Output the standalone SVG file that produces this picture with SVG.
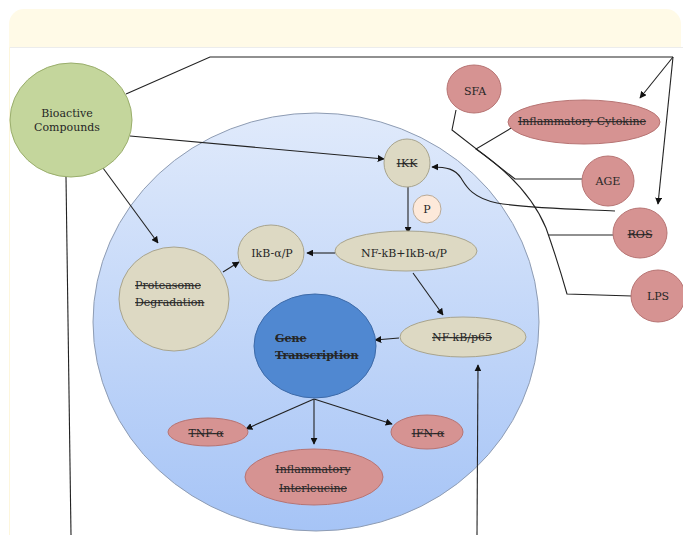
<svg xmlns="http://www.w3.org/2000/svg" width="683" height="535" viewBox="0 0 683 535">
<defs>
<linearGradient id="cellGrad" x1="0" y1="0" x2="0" y2="1">
<stop offset="0" stop-color="#e0eafb"/>
<stop offset="1" stop-color="#a6c4f6"/>
</linearGradient>
<marker id="arr" viewBox="0 0 10 10" refX="9" refY="5" markerWidth="7" markerHeight="7" orient="auto" markerUnits="userSpaceOnUse">
<path d="M0,0 L10,5 L0,10 z" fill="#111"/>
</marker>
<style>
.t{font-family:"DejaVu Serif","Liberation Serif",serif;font-size:11px;fill:#262626;text-anchor:middle}
.s{text-decoration:line-through}
.ln{fill:none;stroke:#222;stroke-width:1.1}
.ar{fill:none;stroke:#222;stroke-width:1.1;marker-end:url(#arr)}
.tan{fill:#ddd9c3;stroke:#a8a48e;stroke-width:1}
.red{fill:#d69392;stroke:#b77473;stroke-width:1}
</style>
</defs>
<rect x="0" y="0" width="683" height="535" fill="#ffffff"/>
<rect x="9" y="9" width="672" height="70" rx="15" fill="#fffae7"/>
<rect x="9" y="47" width="674" height="488" fill="#ffffff"/>
<line x1="9" y1="47.5" x2="683" y2="47.5" stroke="#ececec" stroke-width="1"/>
<line x1="9.5" y1="47" x2="9.5" y2="535" stroke="#fdf6dc" stroke-width="1"/>

<g id="cell">
<ellipse cx="316" cy="322" rx="223" ry="209" fill="url(#cellGrad)" stroke="#8e9cb3" stroke-width="1"/>
</g>

<g id="connectors">
<polyline class="ln" points="126,94 210,57 673,57"/>
<line class="ar" x1="673" y1="57" x2="640" y2="98"/>
<line class="ar" x1="673" y1="57" x2="658" y2="204"/>
<line class="ar" x1="130" y1="136" x2="384" y2="159"/>
<line class="ar" x1="103" y1="168" x2="158" y2="243"/>
<line class="ln" x1="66" y1="177" x2="71" y2="535"/>
<line class="ar" x1="408" y1="187" x2="408" y2="233"/>
<line class="ar" x1="335" y1="253" x2="307" y2="253"/>
<line class="ar" x1="223" y1="272" x2="239" y2="262"/>
<line class="ar" x1="413" y1="273" x2="443" y2="315"/>
<line class="ar" x1="399" y1="338" x2="375" y2="340"/>
<line class="ar" x1="314" y1="399" x2="246" y2="429"/>
<line class="ar" x1="314" y1="399" x2="314" y2="444"/>
<line class="ar" x1="314" y1="399" x2="392" y2="424"/>
<line class="ar" x1="477" y1="535" x2="478" y2="365"/>
<path class="ar" d="M615,211 C570,209 525,208 497,203 C472,198 466,186 461,178 C455,169 447,167 432,167"/>
<polyline class="ln" points="456,110 452,130 515,179 582,179"/>
<path class="ln" d="M513,127 L476,149 Q528,185 546,228 Q558,262 567,294 L632,296"/>
<line class="ln" x1="548" y1="235" x2="613" y2="235"/>
</g>

<g id="bioactive">
<ellipse cx="71" cy="120" rx="61" ry="57" fill="#c4d69c" stroke="#9aae6c" stroke-width="1"/>
<text class="t" x="67" y="117">Bioactive</text>
<text class="t" x="67" y="131">Compounds</text>
</g>
<g id="ikk">
<ellipse class="tan" cx="407" cy="163" rx="23" ry="24"/>
<text class="t s" x="407" y="167">IKK</text>
</g>
<g id="p">
<circle cx="427" cy="209" r="14" fill="#fde9da" stroke="#b9aa98" stroke-width="1"/>
<text class="t" x="427" y="213">P</text>
</g>
<g id="nfkb-ikb">
<ellipse class="tan" cx="406" cy="251" rx="71" ry="20"/>
<text class="t" x="404" y="257">NF-kB+IkB-α/P</text>
</g>
<g id="ikb">
<ellipse class="tan" cx="271" cy="253" rx="33" ry="28"/>
<text class="t" x="272" y="257">IkB-α/P</text>
</g>
<g id="proteasome">
<ellipse class="tan" cx="174" cy="299" rx="55" ry="52"/>
<text class="t s" x="135" y="289" style="text-anchor:start">Proteasome</text>
<text class="t s" x="135" y="306" style="text-anchor:start">Degradation</text>
</g>
<g id="gene">
<ellipse cx="315" cy="346" rx="61" ry="52" fill="#5088d1" stroke="#3d6aa8" stroke-width="1"/>
<text class="t s" x="275" y="342" style="text-anchor:start;font-weight:bold">Gene</text>
<text class="t s" x="275" y="359" style="text-anchor:start;font-weight:bold">Transcription</text>
</g>
<g id="nfkb-p65">
<ellipse class="tan" cx="463" cy="337" rx="63" ry="20"/>
<text class="t s" x="462" y="341">NF-kB/p65</text>
</g>
<g id="tnf">
<ellipse class="red" cx="208" cy="432" rx="40" ry="14"/>
<text class="t s" x="206" y="437">TNF-α</text>
</g>
<g id="ifn">
<ellipse class="red" cx="427" cy="432" rx="36" ry="17"/>
<text class="t s" x="428" y="437">IFN-α</text>
</g>
<g id="interleucine">
<ellipse class="red" cx="314" cy="477" rx="69" ry="28"/>
<text class="t s" x="313" y="473">Inflammatory</text>
<text class="t s" x="313" y="492">Interleucine</text>
</g>
<g id="sfa">
<ellipse class="red" cx="474" cy="89" rx="27" ry="24"/>
<text class="t" x="475" y="95">SFA</text>
</g>
<g id="cytokine">
<ellipse class="red" cx="584" cy="122" rx="76" ry="22"/>
<text class="t s" x="582" y="125">Inflammatory Cytokine</text>
</g>
<g id="age">
<ellipse class="red" cx="608" cy="181" rx="26" ry="25"/>
<text class="t" x="608" y="185">AGE</text>
</g>
<g id="ros">
<ellipse class="red" cx="640" cy="233" rx="27" ry="25"/>
<text class="t s" x="640" y="238">ROS</text>
</g>
<g id="lps">
<ellipse class="red" cx="658" cy="296" rx="27" ry="26"/>
<text class="t" x="658" y="300">LPS</text>
</g>
</svg>
